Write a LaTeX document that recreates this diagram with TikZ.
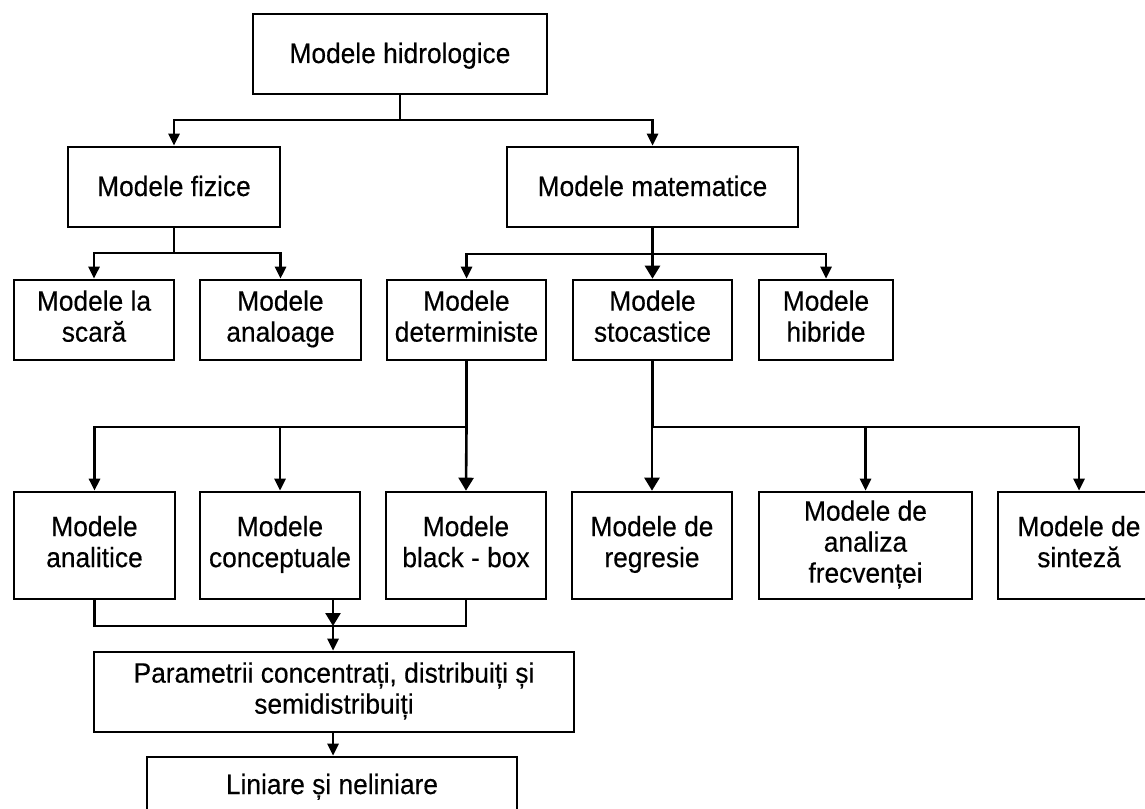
\documentclass[tikz,border=0pt]{standalone}
\usepackage{fontspec}
\setmainfont[FakeStretch=0.94,FakeBold=0.35]{Liberation Sans}
\usetikzlibrary{arrows.meta}
\begin{document}
\begin{tikzpicture}[x=1pt,y=-1pt,
  box/.style={draw, line width=2.6pt, align=center, inner sep=0pt,
    font=\fontsize{28}{31}\selectfont,
    execute at begin node={\rule{0pt}{26pt}},
    execute at end node={\rule[-8pt]{0pt}{8pt}}},
  link/.style={line width=2.6pt},
  arr/.style={link, -{Triangle[width=11pt,length=12pt]}},
  bigarr/.style={link, -{Triangle[width=15pt,length=13pt]}}]
\useasboundingbox (0,0) rectangle (1145,808);
\clip (0,0) rectangle (1145,808);
\fill[white] (0,0) rectangle (1145,808);

% level 0 and 1
\node[box, minimum width=294pt, minimum height=80pt] (hidro) at (400,54) {Modele hidrologice};
\node[box, minimum width=212pt, minimum height=80pt] (fiz) at (174,187) {Modele fizice};
\node[box, minimum width=291pt, minimum height=80pt] (mat) at (652.5,187) {Modele matematice};

% level 2
\node[box, minimum width=160pt, minimum height=80pt] (scara) at (94,320) {Modele la\\scară};
\node[box, minimum width=161pt, minimum height=80pt] (analog) at (280.5,320) {Modele\\analoage};
\node[box, minimum width=159pt, minimum height=80pt] (det) at (466.5,320) {Modele\\deterministe};
\node[box, minimum width=159pt, minimum height=80pt] (stoc) at (652.5,320) {Modele\\stocastice};
\node[box, minimum width=134pt, minimum height=80pt] (hib) at (826,320) {Modele\\hibride};

% level 3
\node[box, minimum width=161pt, minimum height=107pt] (anal) at (94.5,545.5) {Modele\\analitice};
\node[box, minimum width=160pt, minimum height=107pt] (conc) at (280,545.5) {Modele\\conceptuale};
\node[box, minimum width=160pt, minimum height=107pt] (bbox) at (466,545.5) {Modele\\black - box};
\node[box, minimum width=160pt, minimum height=107pt] (regr) at (652,545.5) {Modele de\\regresie};
\node[box, minimum width=213pt, minimum height=107pt] (frec) at (865.5,545.5) {Modele de\\analiza\\frecvenței};
\node[box, minimum width=162pt, minimum height=107pt] (sint) at (1079,545.5) {Modele de\\sinteză};

% level 4 and 5
\node[box, minimum width=480pt, minimum height=80pt] (param) at (334,692) {Parametrii concentrați, distribuiți și\\semidistribuiți};
\node[box, minimum width=370pt, minimum height=56pt] (lin) at (332,785) {Liniare și neliniare};

% junction points
\coordinate (j0) at (400,120);
\coordinate (j1) at (174,253);
\coordinate (j2) at (652.5,254);
\coordinate (j3) at (466.5,427);
\coordinate (j4) at (652.5,427);
\coordinate (m0) at (94.5,626);
\coordinate (m1) at (466,626);
\coordinate (mc) at (333,626);
\coordinate (cs) at (333,599);

% connectors
\draw[link] (hidro.south) -- (j0);
\draw[arr] (j0) -| (fiz.north);
\draw[arr] (j0) -| (mat.north);

\draw[link] (fiz.south) -- (j1);
\draw[arr] (j1) -| (scara.north);
\draw[arr] (j1) -| (analog.north);

\draw[link] (mat.south) -- (j2);
\draw[arr] (j2) -| (det.north);
\draw[bigarr] (j2) -- (stoc.north);
\draw[arr] (j2) -| (hib.north);

\draw[link] (det.south) -- (j3);
\draw[arr] (j3) -| (anal.north);
\draw[arr] (j3) -| (conc.north);
\draw[bigarr] (j3) -- (bbox.north);

\draw[link] (stoc.south) -- (j4);
\draw[bigarr] (j4) -| (regr.north);
\draw[arr] (j4) -| (frec.north);
\draw[arr] (j4) -| (sint.north);

\draw[link] (anal.south) |- (m0) -- (m1) -- (bbox.south);
\draw[bigarr] (cs) -- (mc);
\draw[arr] (mc) -- (param.north -| mc);
\draw[arr] (param.south -| mc) -- (lin.north -| mc);
\end{tikzpicture}
\end{document}
